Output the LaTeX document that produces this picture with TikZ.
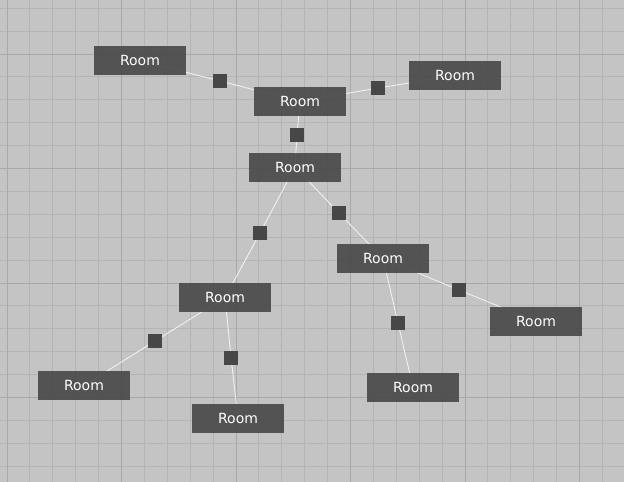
\documentclass[tikz,border=0pt]{standalone}
\usepackage{fontspec}
\setsansfont{DejaVu Sans}
\usepackage{xcolor}

\definecolor{floor}{HTML}{C4C4C4}
\definecolor{gridminor}{HTML}{B4B4B4}
\definecolor{gridmajor}{HTML}{A8A8A8}
\definecolor{roomgray}{HTML}{474747}
\definecolor{linkwhite}{HTML}{F0F0F0}

\pgfdeclarelayer{back}
\pgfdeclarelayer{mid}
\pgfsetlayers{back,mid,main}

\begin{document}
\begin{tikzpicture}[x=1pt, y=-1pt,
    room/.style={fill=roomgray, fill opacity=0.9, text opacity=1, text=white,
      minimum width=92pt, minimum height=29pt, inner sep=0pt,
      font=\sffamily\fontsize{14}{14}\selectfont},
    door/.style={fill=roomgray, minimum size=14pt, inner sep=0pt},
    link/.style={draw=linkwhite, line width=0.9pt},
    minor/.style={draw=gridminor, line width=0.9pt},
    major/.style={draw=gridmajor, line width=1pt}]
  \def\gs{22.9}

  \useasboundingbox (0,0) rectangle (624,482);

  \begin{pgfonlayer}{back}
    \fill[floor] (0,0) rectangle (624,482);
    \foreach \i in {0,...,26}
      \draw[minor] ({7+\gs*\i},0) -- ({7+\gs*\i},482);
    \foreach \j in {0,...,20}
      \draw[minor] (0,{8.2+\gs*\j}) -- (624,{8.2+\gs*\j});
    \foreach \i in {0,5,...,25}
      \draw[major] ({7+\gs*\i},0) -- ({7+\gs*\i},482);
    \foreach \j in {2,7,...,17}
      \draw[major] (0,{8.2+\gs*\j}) -- (624,{8.2+\gs*\j});
  \end{pgfonlayer}

  % rooms
  \node[room] (a) at (140, 60.5)  {Room};
  \node[room] (b) at (300, 101.5) {Room};
  \node[room] (c) at (455, 75.5)  {Room};
  \node[room] (d) at (295, 167)   {Room};
  \node[room] (e) at (383, 258.5) {Room};
  \node[room] (f) at (225, 297.5) {Room};
  \node[room] (g) at (84, 385.5)  {Room};
  \node[room] (h) at (238, 418.5) {Room};
  \node[room] (i) at (413, 387.5) {Room};
  \node[room] (j) at (536, 321.5) {Room};

  % doors
  \node[door] (ab) at (220, 81)    {};
  \node[door] (bc) at (378, 88)    {};
  \node[door] (bd) at (297, 134.5) {};
  \node[door] (df) at (260, 233)   {};
  \node[door] (de) at (339, 213)   {};
  \node[door] (fg) at (155, 341)   {};
  \node[door] (fh) at (231, 357.5) {};
  \node[door] (ej) at (459, 290)   {};
  \node[door] (ei) at (398, 323)   {};

  \begin{pgfonlayer}{mid}
    \draw[link] (a.center) -- (ab.center) -- (b.center);
    \draw[link] (b.center) -- (bc.center) -- (c.center);
    \draw[link] (b.center) -- (bd.center) -- (d.center);
    \draw[link] (d.center) -- (df.center) -- (f.center);
    \draw[link] (d.center) -- (de.center) -- (e.center);
    \draw[link] (f.center) -- (fg.center) -- (g.center);
    \draw[link] (f.center) -- (fh.center) -- (h.center);
    \draw[link] (e.center) -- (ej.center) -- (j.center);
    \draw[link] (e.center) -- (ei.center) -- (i.center);
  \end{pgfonlayer}
\end{tikzpicture}
\end{document}
